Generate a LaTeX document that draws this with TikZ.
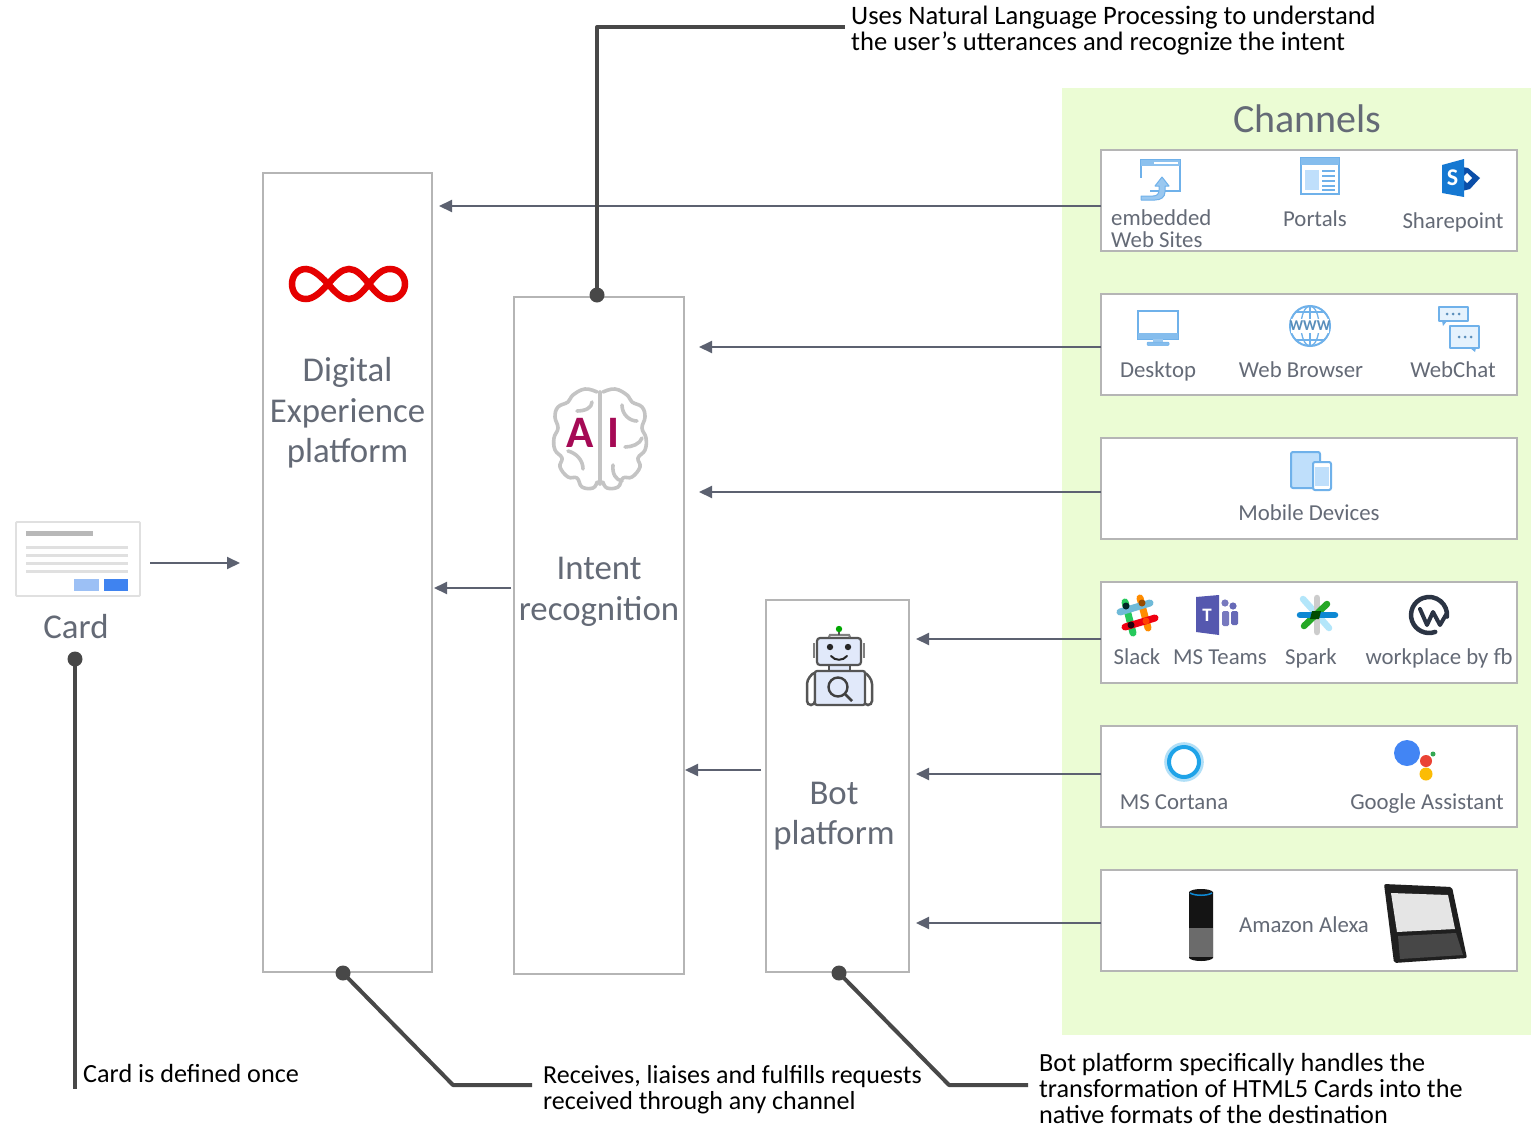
\documentclass[tikz,border=0pt]{standalone}
\usepackage{fontspec}
\setmainfont{Carlito}
\usetikzlibrary{arrows.meta}
\definecolor{bggreen}{HTML}{EBFCD4}
\definecolor{boxline}{HTML}{B5B5B5}
\definecolor{txtgrey}{HTML}{646A76}
\definecolor{arrgrey}{HTML}{5C6170}
\definecolor{leader}{HTML}{484848}
\definecolor{iconblue}{HTML}{6FB1EA}
\definecolor{iconfill}{HTML}{BFDFFB}
\definecolor{btnlight}{HTML}{9CC0F5}
\definecolor{btndark}{HTML}{3F83F0}
\definecolor{aired}{HTML}{A50A55}
\definecolor{brain}{HTML}{C4C4C4}
\definecolor{spblue}{HTML}{1578D2}
\definecolor{spdark}{HTML}{0B4EA8}
\definecolor{teams}{HTML}{5558AF}
\definecolor{robotfill}{HTML}{E1E9FA}
\definecolor{robotline}{HTML}{555555}
\definecolor{cortana}{HTML}{1FA3E8}
\definecolor{wplace}{HTML}{2B3444}
\definecolor{gblue}{HTML}{4285F4}
\definecolor{gred}{HTML}{EA4335}
\definecolor{gyellow}{HTML}{FBBC05}
\definecolor{ggreen}{HTML}{34A853}
\tikzset{
  px/.style={x=1pt,y=-1pt},
  panel/.style={draw=boxline,line width=1.6pt,fill=white,anchor=north west,inner sep=0pt,outer sep=0pt},
  chan/.style={panel,minimum width=416pt,minimum height=101pt},
  arr/.style={draw=arrgrey,line width=2pt,-{Triangle[length=13pt,width=12pt]}},
  lead/.style={draw=leader,line width=4pt,line join=round},
  dot/.style={circle,fill=leader,minimum size=15pt,inner sep=0pt},
  big/.style={text=txtgrey,font=\fontsize{34.8}{40.5}\selectfont,align=center,inner sep=0pt},
  small/.style={text=txtgrey,font=\fontsize{22.8}{22}\selectfont,align=left,inner sep=0pt},
  sl/.style={small,anchor=base},
  note/.style={text=black,font=\fontsize{26.2}{26}\selectfont,align=left,inner sep=0pt,anchor=west},
  ico/.style={draw=iconblue,line width=2pt,fill=iconfill},
  icol/.style={draw=iconblue,line width=2pt},
  brainline/.style={draw=brain,line width=3.6pt,line cap=round,line join=round},
}
\begin{document}
\begin{tikzpicture}[px]
\useasboundingbox (0,0) rectangle (1531,1127);
\fill[white] (0,0) rectangle (1531,1127);
\fill[bggreen] (1062,88) rectangle (1531,1035);

% main panels
\node[panel,minimum width=169pt,minimum height=799pt] (digital) at (263,173) {};
\node[panel,minimum width=170pt,minimum height=677pt] (intent) at (514,297) {};
\node[panel,minimum width=143pt,minimum height=372pt] (bot) at (766,600) {};

% channel boxes
\node[chan] (c1) at (1101,150) {};
\node[chan] (c2) at (1101,294) {};
\node[chan] (c3) at (1101,438) {};
\node[chan] (c4) at (1101,582) {};
\node[chan] (c5) at (1101,726) {};
\node[chan] (c6) at (1101,870) {};

% card
\node[draw=black!12,line width=1.8pt,fill=white,anchor=north west,inner sep=0pt,outer sep=0pt,minimum width=124pt,minimum height=74pt,rounded corners=1pt] (card) at (16,522) {};
\fill[black!28] (26,531) rectangle (93,536);
\foreach \y in {547,555,563,571} \fill[black!12] (26,\y-1.5) rectangle (128,\y+1.5);
\fill[btnlight] (74,579) rectangle (99,591);
\fill[btndark] (104,579) rectangle (128,591);

% arrows
\coordinate (cardtip) at (240,563);
\draw[arr] (150,563) -- (cardtip);
\draw[arr,shorten >=7pt] (c1.west |- 0,206) -- (digital.east |- 0,206);
\draw[arr,shorten >=15pt] (c2.west |- 0,347) -- (intent.east |- 0,347);
\draw[arr,shorten >=15pt] (c3.west |- 0,492) -- (intent.east |- 0,492);
\draw[arr,shorten >=7pt] (c4.west |- 0,639) -- (bot.east |- 0,639);
\draw[arr,shorten >=7pt] (c5.west |- 0,774) -- (bot.east |- 0,774);
\draw[arr,shorten >=7pt] (c6.west |- 0,923) -- (bot.east |- 0,923);
\draw[arr,shorten <=3pt,shorten >=2pt] (intent.west |- 0,588) -- (digital.east |- 0,588);
\draw[arr,shorten <=5pt,shorten >=1pt] (bot.west |- 0,770) -- (intent.east |- 0,770);

% big labels
\node[big] (tchannels) at (1307.5,119) {\fontsize{40}{40}\selectfont Channels};
\node[big] (tdigital) at (347.5,413) {Digital\\Experience\\platform};
\node[big] (tintent) at (599,592) {Intent\\recognition};
\node[big] (tbot) at (834,816) {Bot\\platform};
\node[big] (tcard) at (76,627) {Card};

% small labels
\node[small,anchor=west] (lembed) at (1111,229) {embedded\\Web Sites};
\node[sl] (lportals) at (1315,226) {Portals};
\node[sl] (lshare) at (1453,228.5) {Sharepoint};
\node[sl] (ldesktop) at (1158,377.5) {Desktop};
\node[sl] (lbrowser) at (1301,377.5) {Web Browser};
\node[sl] (lwebchat) at (1453,377.5) {WebChat};
\node[sl] (lmobile) at (1309,520.5) {Mobile Devices};
\node[sl] (lslack) at (1137,664) {Slack};
\node[sl] (lteams) at (1220,664) {MS Teams};
\node[sl] (lspark) at (1311,664) {Spark};
\node[sl] (lwork) at (1439,664) {workplace by fb};
\node[sl] (lcortana) at (1174,809) {MS Cortana};
\node[sl] (lgoogle) at (1427,809) {Google Assistant};
\node[sl] (lalexa) at (1304,932) {Amazon Alexa};

% annotation texts
\node[note,font=\fontsize{26.6}{26}\selectfont] (nnlp) at (851,30.5) {Uses Natural Language Processing to understand\\the user’s utterances and recognize the intent};
\node[note] (ncard) at (83,1073) {Card is defined once};
\node[note,font=\fontsize{26}{26}\selectfont] (nrecv) at (543,1090) {Receives, liaises and fulfills requests\\received through any channel};
\node[note] (nbot) at (1039,1088) {Bot platform specifically handles the\\transformation of HTML5 Cards into the\\native formats of the destination};

% leader lines
\node[dot] (dintent) at (597,295) {};
\node[dot] (dcard) at (75,659) {};
\node[dot] (ddig) at (343,973) {};
\node[dot] (dbot) at (839,973) {};
\coordinate (knlp) at (597,27);
\coordinate (kcard) at (75,1089);
\coordinate (kdig) at (453,1085);
\coordinate (kbot) at (949,1085);
\draw[lead] (dintent.center) -- (knlp) -- ([xshift=-6pt]nnlp.west |- knlp);
\draw[lead] (dcard.center) -- (kcard);
\draw[lead] (ddig.center) -- (kdig) -- ([xshift=-11pt]nrecv.west |- kdig);
\draw[lead] (dbot.center) -- (kbot) -- ([xshift=-11pt]nbot.west |- kbot);

% infinity logo
\draw[draw=red!90!black,line width=6.5pt]
  (328,284) .. controls (318,273) and (311,269) .. (306,269)
  .. controls (297,269) and (292,276) .. (292,284)
  .. controls (292,292) and (297,299) .. (306,299)
  .. controls (313,299) and (320,293) .. (328,284)
  .. controls (336,275) and (342,269) .. (349,269)
  .. controls (356,269) and (362,275) .. (369,284)
  .. controls (376,293) and (382,299) .. (390,299)
  .. controls (399,299) and (405,292) .. (405,284)
  .. controls (405,276) and (399,269) .. (390,269)
  .. controls (382,269) and (376,275) .. (369,284)
  .. controls (362,293) and (356,299) .. (349,299)
  .. controls (342,299) and (336,293) .. (328,284) -- cycle;

% brain + AI
\foreach \sx/\ox in {1/0,-1/1200}{
  \begin{scope}[shift={(\ox,0)},xscale=\sx]
    \draw[brainline] plot[smooth,tension=0.7] coordinates {(597,392) (585,389) (573,395) (568,402) (558,407) (555,417) (558,428) (554,438) (555,450) (562,458) (560,467) (568,477) (577,478) (582,487) (593,488) (597,482)};
  \end{scope}}
\draw[brainline] (600,392) -- (600,484);
\draw[brainline] (577,411) .. controls (585,411) and (592,408) .. (592,402);
\draw[brainline] (622,405) .. controls (622,415) and (630,421) .. (637,421);
\draw[brainline] (625,447) .. controls (632,447) and (640,444) .. (642,438);
\draw[brainline] (568,451) .. controls (576,453) and (583,460) .. (583,469);
\draw[brainline] (613,465) .. controls (612,474) and (616,480) .. (622,481);
\node[inner sep=0pt,text=aired,font=\bfseries\fontsize{45}{45}\selectfont] (tai) at (580.5,433) {A};
\node[inner sep=0pt,text=aired,font=\bfseries\fontsize{45}{45}\selectfont] (tai2) at (613,433) {I};

% robot
\begin{scope}
  \draw[draw=robotline,line width=2.5pt,fill=white,rounded corners=4pt] (807,705) -- (807,680) -- (815,671) -- (815,705) -- cycle;
  \draw[draw=robotline,line width=2.5pt,fill=white,rounded corners=4pt] (872,705) -- (872,680) -- (864,671) -- (864,705) -- cycle;
  \draw[draw=robotline,line width=2pt,fill=robotfill] (829,665) rectangle (850,671);
  \draw[draw=robotline,line width=2.2pt,fill=robotfill,rounded corners=2pt] (815,671) rectangle (865,705);
  \draw[draw=robotline,line width=2.2pt,fill=robotfill,rounded corners=3pt] (817,638) rectangle (861,665);
  \draw[draw=black!50,line width=2.5pt] (814,643) -- (814,658);
  \draw[draw=black!50,line width=2.5pt] (864,643) -- (864,658);
  \draw[draw=black!50,line width=2.2pt] (829,637) -- (830,635) -- (849,635) -- (850,637);
  \draw[draw=robotline,line width=1.5pt] (839,635) -- (839,631);
  \fill[green!65!black] (839,629) circle (3.2pt);
  \fill[black!85] (830,647) circle (3.2pt);
  \fill[black!85] (848,647) circle (3.2pt);
  \draw[draw=black!85,line width=2pt,line cap=round] (831,656) .. controls (835,661) and (843,661) .. (847,656);
  \draw[draw=black!75,line width=2.4pt] (838,687) circle (9.5pt);
  \draw[draw=black!75,line width=2.8pt] (845,694) -- (852,701);
\end{scope}

% icon embedded web site
\draw[ico,fill=white] (1141,160) rectangle (1180,191);
\fill[iconblue!80] (1141,160) rectangle (1180,165.5);
\fill[white] (1154,162) rectangle (1178,164);
\fill[white] (1139,178) rectangle (1150,193);
\draw[draw=iconblue,fill=iconblue!70,line width=1pt,line join=round] (1141,196) -- (1153,196) .. controls (1157,196) and (1159,194) .. (1159,190) -- (1159,186) -- (1155,186) -- (1162,177) -- (1169,186) -- (1165,186) -- (1165,192) .. controls (1165,197) and (1161,200) .. (1155,200) -- (1141,200) -- cycle;
% icon portals
\draw[ico,fill=white] (1301,158) rectangle (1339,194);
\fill[iconblue!85] (1301,158) rectangle (1339,165);
\fill[iconfill] (1305,170) rectangle (1319,190);
\foreach \y in {171,176,181,186,190} \draw[iconblue,line width=1.3pt] (1322,\y) -- (1335,\y);
% sharepoint
\fill[spdark] (1462,167) -- (1468,168) -- (1480,178) -- (1470,189) -- (1462,191) -- cycle;
\fill[white] (1467,173) -- (1472,178) -- (1467,183) -- (1462,178) -- cycle;
\fill[spblue] (1442,165) -- (1464,159) -- (1464,197) -- (1442,193) -- cycle;
\node[inner sep=0pt,text=white,font=\bfseries\fontsize{24}{24}\selectfont] (tsp) at (1452.5,178) {S};
% desktop
\draw[ico,fill=white] (1138,311) rectangle (1178,339);
\fill[iconblue!85] (1138,333) rectangle (1178,339);
\fill[iconblue!70] (1153,339) rectangle (1163,342);
\draw[iconblue,fill=iconblue!85,line width=.5pt,rounded corners=1pt] (1147,342) rectangle (1169,345.5);
% globe
\draw[icol,fill=white] (1310,326) circle (20pt);
\draw[icol,line width=1.3pt] (1310,326) ellipse (9pt and 20pt);
\draw[icol,line width=1.3pt] (1310,306) -- (1310,346);
\draw[icol,line width=1.3pt] (1296,312) -- (1324,312);
\draw[icol,line width=1.3pt] (1296,340) -- (1324,340);
\fill[white] (1291,319) rectangle (1329,333);
\node[inner sep=0pt,text=iconblue!80!black,font=\bfseries\fontsize{15}{15}\selectfont] (twww) at (1310,326) {WWW};
% webchat
\draw[draw=iconblue,line width=1.6pt,fill=iconfill!40,line join=round] (1439,307) rectangle (1468,321);
\fill[iconblue] (1442,321) -- (1447,321) -- (1443,326) -- cycle;
\foreach \x in {1447,1453,1459} \fill[iconblue!80!black] (\x,314) circle (1.5pt);
\draw[draw=iconblue,line width=1.6pt,fill=iconfill!40,line join=round] (1450,326) rectangle (1479,348);
\fill[iconblue] (1470,348) -- (1476,348) -- (1475,352) -- cycle;
\foreach \x in {1459,1465,1471} \fill[iconblue!80!black] (\x,337) circle (1.5pt);
% mobile
\draw[ico,rounded corners=2pt] (1291,452) rectangle (1320,488);
\draw[ico,fill=white,rounded corners=2pt] (1313,462) rectangle (1331,490);
\fill[iconfill] (1315,467) rectangle (1329,486);
% slack
\begin{scope}[line width=7pt,line cap=round]
  \draw[draw=green!50!teal!85!white] (1125,602) -- (1133,633);
  \draw[draw=orange!90!yellow] (1140,598) -- (1148,628);
  \draw[draw=cyan!55!teal!65!white] (1120,612) -- (1150,603);
  \draw[draw=red!75!purple] (1125,627) -- (1155,618);
  \fill[black!70!teal] (1126,606) circle (3.5pt);
  \fill[black!40!orange] (1142,603) circle (3.5pt);
  \fill[black!80!purple] (1131,625) circle (3.5pt);
  \fill[red!50!orange] (1146,621) circle (3.5pt);
\end{scope}
% teams
\fill[teams] (1196,597) -- (1219,595) -- (1219,635) -- (1196,632) -- cycle;
\node[inner sep=0pt,text=white,font=\bfseries\fontsize{19}{19}\selectfont] (tms) at (1207,615) {T};
\fill[teams!80] (1225,603) circle (3.6pt);
\fill[teams!90] (1233,606) circle (3.6pt);
\fill[teams!80,rounded corners=1.5pt] (1222,611) rectangle (1229,626);
\fill[teams!90,rounded corners=1.5pt] (1231,611) rectangle (1238,625);
% spark
\begin{scope}[line width=6.5pt,line cap=round]
  \draw[draw=cyan!30] (1303,599) -- (1329,628);
  \draw[draw=black!20] (1317,598) -- (1317,632);
  \draw[draw=green!60!black!85!white] (1304,626) -- (1327,604);
  \draw[draw=cyan!70!blue] (1300,615) -- (1335,615);
\end{scope}
\fill[green!30!black] (1312,611) -- (1321,611) -- (1319,619) -- (1310,619) -- cycle;
% workplace
\draw[draw=wplace,line width=4.5pt,line cap=round] (1435.2,631.9) arc[start angle=-70,end angle=-365,radius=18pt];
\draw[draw=wplace,line width=4pt,line join=round,line cap=round] (1420,609) -- (1427,625) -- (1433,612) -- (1440,625) -- (1447,613);
% cortana
\draw[draw=cortana!35,line width=4pt] (1184,762) circle (17.8pt);
\draw[draw=cortana,line width=4pt] (1184,762) circle (15pt);
% google
\fill[gblue] (1407,753) circle (13pt);
\fill[gred] (1426,761) circle (6pt);
\fill[gyellow] (1426,774) circle (6.5pt);
\fill[ggreen] (1433,754) circle (2.5pt);
% alexa
\fill[black!92] (1189,892) .. controls (1192,888) and (1210,888) .. (1213,892) -- (1213,958) .. controls (1210,962) and (1192,962) .. (1189,958) -- cycle;
\fill[black!58] (1189,928) rectangle (1213,957);
\draw[draw=cyan!70!blue,line width=1.5pt] (1190,893) .. controls (1195,896) and (1207,896) .. (1212,893);
% echo show
\fill[black!88,rounded corners=2pt] (1384,884) -- (1452,887) -- (1467,958) -- (1394,963) -- cycle;
\fill[black!10] (1391,893) -- (1448,895) -- (1455,929) -- (1397,932) -- cycle;
\fill[black!72] (1398,936) -- (1456,933) -- (1463,955) -- (1400,959) -- cycle;
\end{tikzpicture}
\end{document}
